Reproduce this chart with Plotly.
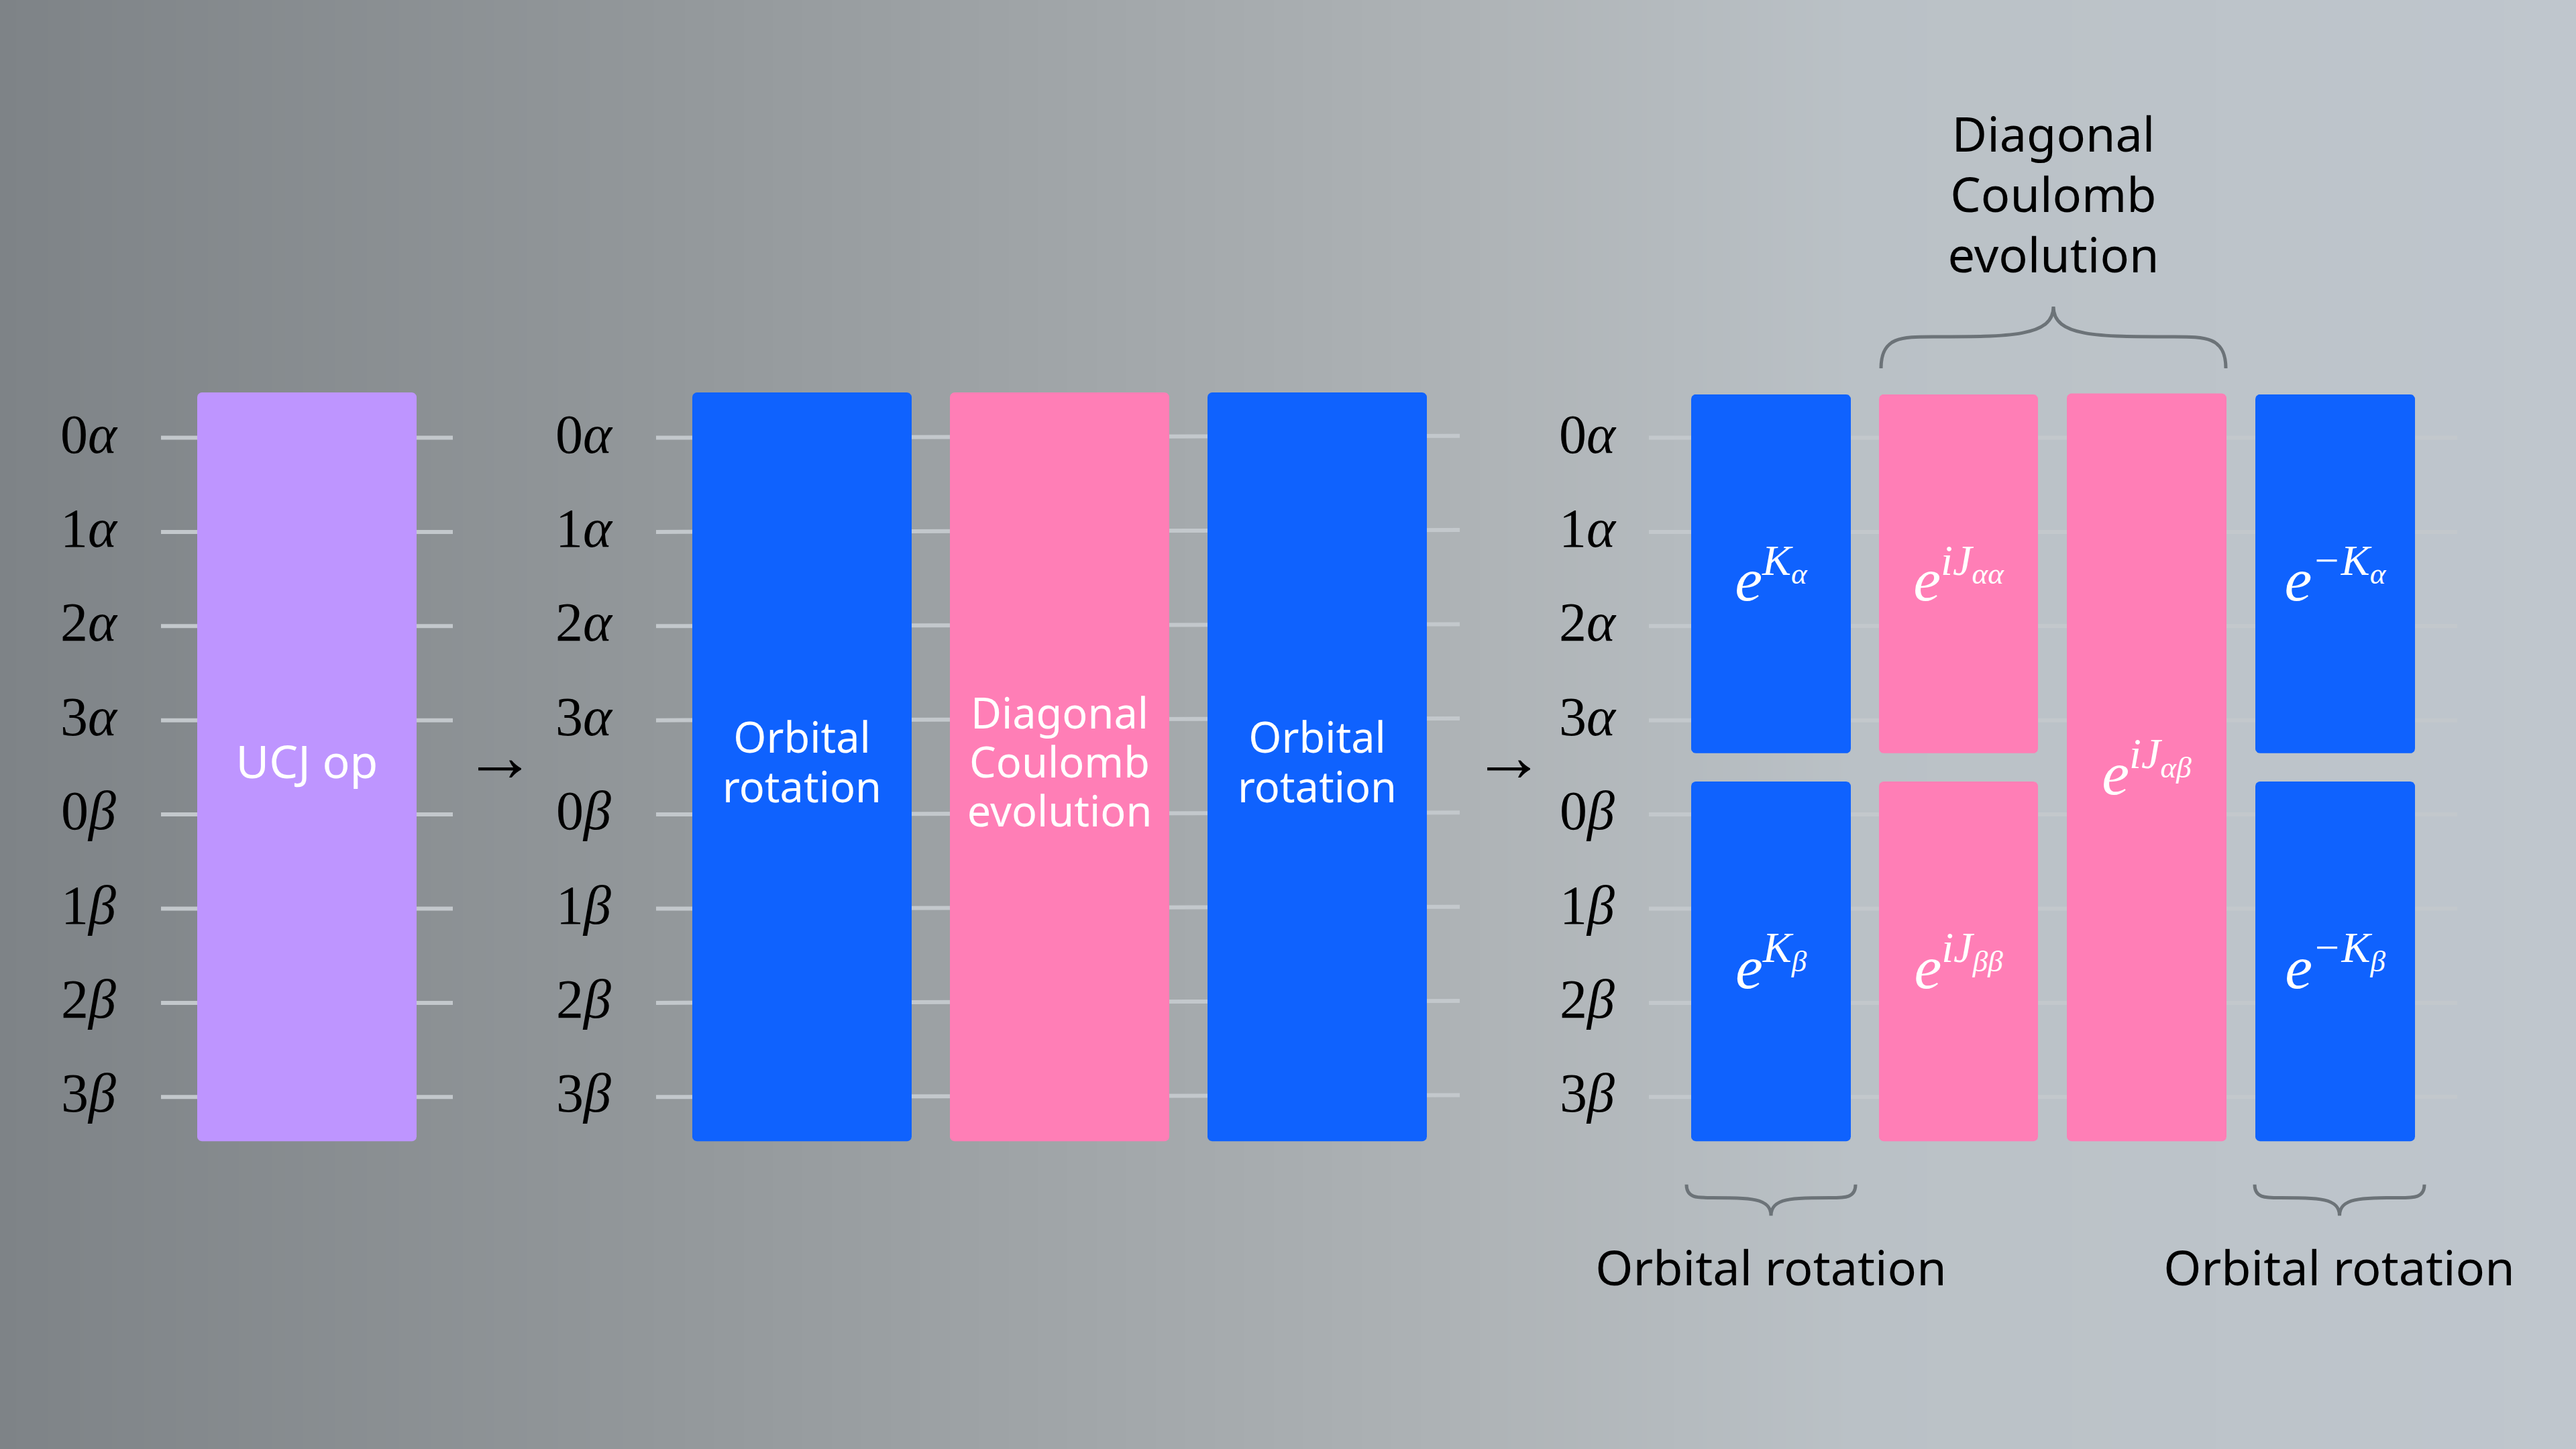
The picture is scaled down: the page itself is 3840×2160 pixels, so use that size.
import numpy as np
import plotly.graph_objects as go

# x axis is in picture pixels, y axis is in wire positions (0 = 0 alpha ... 7 = 3 beta)
WIRE_PX = 140.4
Y_TOP = -652.5 / WIRE_PX
Y_BOTTOM = (2160 - 652.5) / WIRE_PX

wire_labels = ["0<i>α</i>", "1<i>α</i>", "2<i>α</i>", "3<i>α</i>",
               "0<i>β</i>", "1<i>β</i>", "2<i>β</i>", "3<i>β</i>"]
wire_rows = [0, 1, 2, 3, 4, 5, 6, 7]

panel_label_x = [132, 870, 2366]
panel_wire_x0 = [240, 978, 2458]
panel_wire_x1 = [675, 2176, 3663]
panel_wire_tilt = [0.0, -0.02, 0.0]

gate_labels = ["UCJ op",
               "Orbital<br>rotation", "Diagonal<br>Coulomb<br>evolution", "Orbital<br>rotation",
               "e<sup>K<sub>α</sub></sup>", "e<sup>K<sub>β</sub></sup>",
               "e<sup>iJ<sub>αα</sub></sup>", "e<sup>iJ<sub>ββ</sub></sup>", "e<sup>iJ<sub>αβ</sub></sup>",
               "e<sup>−K<sub>α</sub></sup>", "e<sup>−K<sub>β</sub></sup>"]
gate_kind = ["ucj", "orb", "dc", "orb", "orb", "orb", "dc", "dc", "dc", "orb", "orb"]
gate_x0 = [294, 1032, 1416, 1800, 2521, 2521, 2801, 2801, 3081, 3362, 3362]
gate_x1 = [621, 1359, 1743, 2127, 2759, 2759, 3038, 3038, 3319, 3600, 3600]
gate_top = [-0.48, -0.48, -0.48, -0.48, -0.46, 3.65, -0.46, 3.65, -0.47, -0.46, 3.65]
gate_bottom = [7.47, 7.47, 7.47, 7.47, 3.35, 7.47, 3.35, 7.47, 7.47, 3.35, 7.47]

arrow_x = [745, 2249]
arrow_y = [3.45, 3.45]

brace_x0 = [2804, 2514, 3361]
brace_x1 = [3318, 2766, 3614]
brace_base = [-0.737, 7.93, 7.93]
brace_shoulder = [-1.072, 8.07, 8.07]
brace_tip = [-1.392, 8.26, 8.26]

note_labels = ["Diagonal", "Coulomb", "evolution", "Orbital rotation", "Orbital rotation"]
note_x = [3061, 3061, 3061, 2640, 3487]
note_y = [-3.165, -2.525, -1.885, 8.872, 8.872]

gradient_stops = [[0.0, "#7e8387"], [0.26, "#93989b"], [0.58, "#afb4b7"],
                  [0.72, "#bac1c6"], [1.0, "#bfc6cd"]]

GATE_COLORS = {"ucj": "#be95ff", "orb": "#0f62fe", "dc": "#ff7eb6"}
WIRE_COLOR = "#c3c8cc"
BRACE_COLOR = "#6c7378"
SANS = "Noto Sans"
SERIF = "Liberation Serif"
LINE_STEP = 0.523  # spacing of the lines inside a gate, in wires
MATH_DROP = 0.15


def rounded_outline(x0, x1, y0, y1, radius=7):
    # corners go round clockwise, radius in pixels on both axes
    ry = radius / WIRE_PX
    t = np.linspace(0, np.pi / 2, 8)
    xs = np.concatenate([x0 + radius - radius * np.cos(t), x1 - radius + radius * np.sin(t),
                         x1 - radius + radius * np.cos(t), x0 + radius - radius * np.sin(t)])
    ys = np.concatenate([y0 + ry - ry * np.sin(t), y0 + ry - ry * np.cos(t),
                         y1 - ry + ry * np.sin(t), y1 - ry + ry * np.cos(t)])
    return np.append(xs, xs[0]), np.append(ys, ys[0])


def brace_path(x0, x1, base, shoulder, tip):
    xm = (x0 + x1) / 2
    h = (x1 - x0) / 2
    return (f"M {x0},{base} C {x0},{shoulder} {x0 + 0.12 * h},{shoulder} {x0 + 0.3 * h},{shoulder} "
            f"C {xm - 0.25 * h},{shoulder} {xm},{shoulder} {xm},{tip} "
            f"C {xm},{shoulder} {xm + 0.25 * h},{shoulder} {x1 - 0.3 * h},{shoulder} "
            f"C {x1 - 0.12 * h},{shoulder} {x1},{shoulder} {x1},{base}")


fig = go.Figure()

fig.add_trace(go.Heatmap(x=[0, 3840], y=[Y_TOP, Y_BOTTOM], z=[[0, 1], [0, 1]],
                         zsmooth="best", colorscale=gradient_stops,
                         showscale=False, hoverinfo="skip"))

for x0, x1, tilt in zip(panel_wire_x0, panel_wire_x1, panel_wire_tilt):
    for row in wire_rows:
        fig.add_trace(go.Scatter(x=[x0, x1], y=[row, row + tilt], mode="lines",
                                 line=dict(color=WIRE_COLOR, width=6), hoverinfo="skip"))

for label_x in panel_label_x:
    fig.add_trace(go.Scatter(x=[label_x] * len(wire_rows), y=[r + 0.012 for r in wire_rows], mode="text",
                             text=wire_labels, textposition="middle center",
                             textfont=dict(family=SERIF, size=82, color="#000000"), hoverinfo="skip"))

for kind, x0, x1, top, bottom in zip(gate_kind, gate_x0, gate_x1, gate_top, gate_bottom):
    xs, ys = rounded_outline(x0, x1, top, bottom)
    fig.add_trace(go.Scatter(x=xs, y=ys, mode="lines", fill="toself", fillcolor=GATE_COLORS[kind],
                             line=dict(width=0), hoverinfo="skip"))

for i, label in enumerate(gate_labels):
    center_x = (gate_x0[i] + gate_x1[i]) / 2
    center_y = (gate_top[i] + gate_bottom[i]) / 2
    if label.startswith("e<"):
        fig.add_trace(go.Scatter(x=[center_x], y=[center_y + MATH_DROP - 0.03], mode="text", text=[label],
                                 textposition="middle center",
                                 textfont=dict(family=SERIF, size=92, color="#ffffff", style="italic"),
                                 hoverinfo="skip"))
    else:
        lines = label.split("<br>")
        rows = [center_y + (k - (len(lines) - 1) / 2) * LINE_STEP for k in range(len(lines))]
        size = 68 if len(lines) == 1 else 63
        fig.add_trace(go.Scatter(x=[center_x] * len(lines), y=rows, mode="text", text=lines,
                                 textposition="middle center",
                                 textfont=dict(family=SANS, size=size, color="#ffffff"),
                                 hoverinfo="skip"))

fig.add_trace(go.Scatter(x=arrow_x, y=arrow_y, mode="text", text=["→", "→"],
                         textposition="middle center",
                         textfont=dict(family=SERIF, size=108, color="#000000"), hoverinfo="skip"))

fig.add_trace(go.Scatter(x=note_x, y=note_y, mode="text", text=note_labels,
                         textposition="middle center",
                         textfont=dict(family=SANS, size=72, color="#000000"), hoverinfo="skip"))

shapes = [dict(type="path", xref="x", yref="y",
               path=brace_path(x0, x1, base, shoulder, tip),
               line=dict(color=BRACE_COLOR, width=5))
          for x0, x1, base, shoulder, tip in zip(brace_x0, brace_x1, brace_base, brace_shoulder, brace_tip)]

fig.update_layout(width=3840, height=2160, margin=dict(l=0, r=0, t=0, b=0),
                  showlegend=False, shapes=shapes, plot_bgcolor="#a1a6a9", paper_bgcolor="#a1a6a9",
                  xaxis=dict(range=[0, 3840], visible=False),
                  yaxis=dict(range=[Y_BOTTOM, Y_TOP], visible=False))

# the page's default body margin would shift the picture
fig.write_html("out.html", config=dict(displayModeBar=False),
               post_script="document.body.style.margin='0';document.body.style.background='#bfc6cd';")
